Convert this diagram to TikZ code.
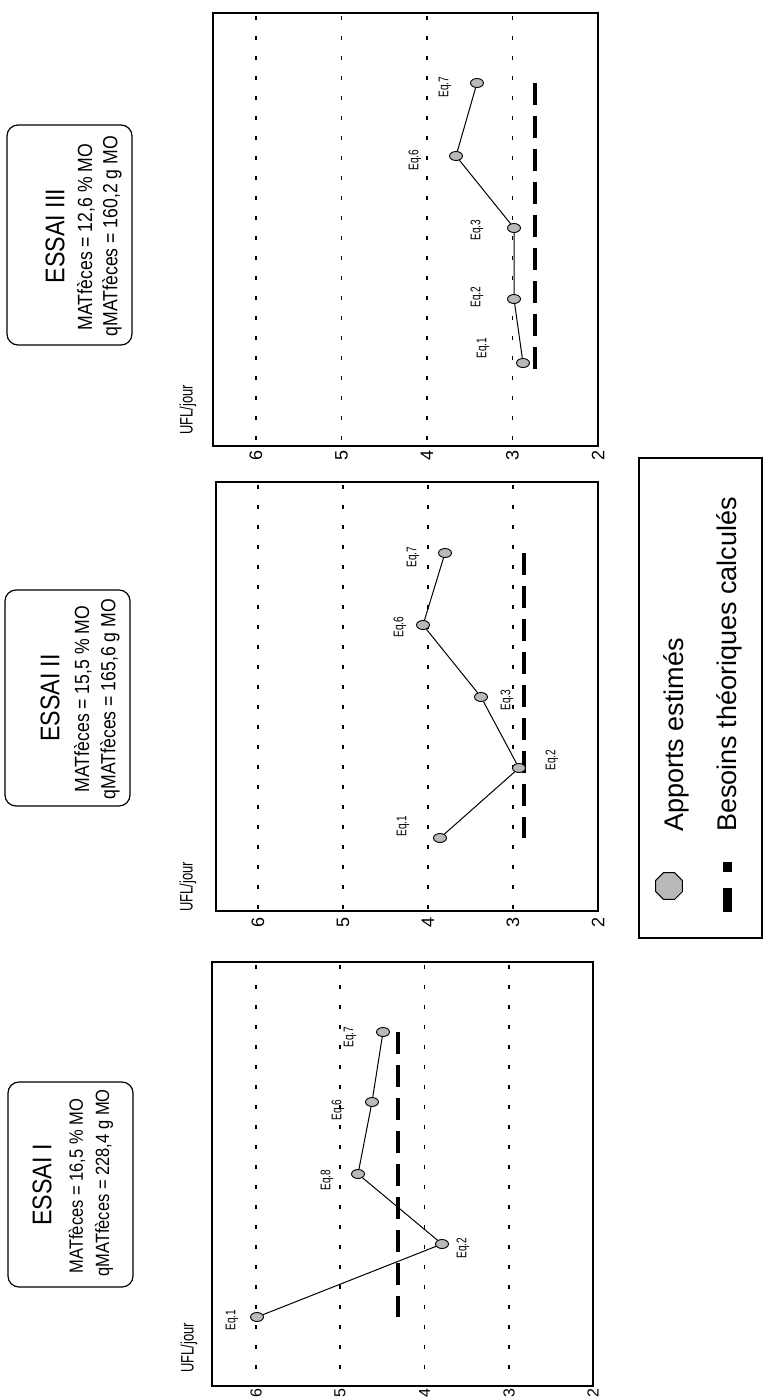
\documentclass[tikz,border=0pt]{standalone}
\usepackage{fontspec}
\setmainfont{Liberation Sans}
\newfontfamily\cond[FakeStretch=0.72]{Liberation Sans}
\newfontfamily\condb[FakeStretch=0.86]{Liberation Sans}
\usetikzlibrary{shapes.geometric}
\tikzset{
  pframe/.style={draw, line width=1.3pt},
  gridln/.style={line width=1.3pt, dash pattern=on 4pt off 16pt},
  mk/.style={ellipse, draw, line width=0.9pt, fill=gray!55, minimum width=13pt, minimum height=9pt, inner sep=0pt},
  conn/.style={line width=1pt},
  eqlab/.style={rotate=90, font=\cond\fontsize{14}{16}\selectfont, inner sep=0pt},
  reqline/.style={line width=3.5pt, dash pattern=on 22pt off 11pt},
  tlab/.style={rotate=90, font=\fontsize{18}{20}\selectfont, inner sep=0pt},
  ufl/.style={rotate=90, font=\cond\fontsize{18}{20}\selectfont, inner sep=0pt},
  essaibox/.style={draw, line width=1.2pt, rounded corners=11pt, minimum width=125pt, inner sep=0pt},
  titlet/.style={rotate=90, font=\condb\fontsize{27}{30}\selectfont, inner sep=0pt},
  boxt/.style={rotate=90, font=\condb\fontsize{20.5}{24}\selectfont, inner sep=0pt},
  boxs/.style={rotate=90, font=\condb\fontsize{19.2}{22}\selectfont, inner sep=0pt},
  legt/.style={rotate=90, font=\fontsize{27}{31}\selectfont, inner sep=0pt, anchor=base west},
}
\begin{document}
\begin{tikzpicture}[x=1pt,y=-1pt]
\useasboundingbox (0,0) rectangle (763,1398);

% ---------------- Boxes ----------------
\node[essaibox, minimum height=220pt] (b3) at (69.5,235) {};
\node[titlet] (b3t) at (55,236) {ESSAI III};
\node[boxt] (b3m) at (86,237) {MATfèces = 12,6 \% MO};
\node[boxt] (b3q) at (112,236) {qMATfèces = 160,2 g MO};

\node[essaibox, minimum height=216pt] (b2) at (67.5,698) {};
\node[titlet] (b2t) at (50,698) {ESSAI II};
\node[boxt] (b2m) at (83,699) {MATfèces = 15,5 \% MO};
\node[boxt] (b2q) at (110,699) {qMATfèces = 165,6 g MO};

\node[essaibox, minimum height=205pt] (b1) at (70.5,1184.5) {};
\node[titlet] (b1t) at (42,1185) {ESSAI I};
\node[boxs] (b1m) at (77,1186) {MATfèces = 16,5 \% MO};
\node[boxs] (b1q) at (104,1183) {qMATfèces = 228,4 g MO};

% ---------------- Panel III ----------------
\draw[pframe] (213,13) rectangle (598,446);
\foreach \gx in {256,341.5,427,512.5} \draw[gridln] (\gx,16) -- (\gx,446);
\foreach \gx/\lab in {256/6,341.5/5,427/4,512.5/3,598/2} \node[tlab] at (\gx,455) {\lab};
\node[ufl] (u3) at (188,410) {UFL/jour};
\draw[reqline] (535,83) -- (535,370);
\node[mk] (c1) at (523,363) {};
\node[mk] (c2) at (514,299) {};
\node[mk] (c3) at (514,228) {};
\node[mk] (c6) at (456,156) {};
\node[mk] (c7) at (477,83) {};
\draw[conn] (c1) -- (c2) -- (c3) -- (c6) -- (c7);
\node[eqlab] at (483,348) {Eq.1};
\node[eqlab] at (477,297) {Eq.2};
\node[eqlab] at (477,230) {Eq.3};
\node[eqlab] at (415,160) {Eq.6};
\node[eqlab] at (445,87) {Eq.7};

% ---------------- Panel II ----------------
\draw[pframe] (216,482) rectangle (598,911);
\foreach \gx in {258,343,428,513} \draw[gridln] (\gx,485) -- (\gx,911);
\foreach \gx/\lab in {258/6,343/5,428/4,513/3,598/2} \node[tlab] at (\gx,922) {\lab};
\node[ufl] (u2) at (188,887) {UFL/jour};
\draw[reqline] (524,553) -- (524,838);
\node[mk] (d1) at (440,838) {};
\node[mk] (d2) at (519,768) {};
\node[mk] (d3) at (481,697) {};
\node[mk] (d6) at (423,625) {};
\node[mk] (d7) at (445,553) {};
\draw[conn] (d1) -- (d2) -- (d3) -- (d6) -- (d7);
\node[eqlab] at (403,826) {Eq.1};
\node[eqlab] at (552,760) {Eq.2};
\node[eqlab] at (507,700) {Eq.3};
\node[eqlab] at (400,627) {Eq.6};
\node[eqlab] at (413,557) {Eq.7};

% ---------------- Panel I ----------------
\draw[pframe] (212,962) rectangle (593,1386);
\foreach \gx in {256,340,424.5,509} \draw[gridln] (\gx,965) -- (\gx,1386);
\foreach \gx/\lab in {256/6,340/5,424.5/4,509/3,593/2} \node[tlab, anchor=west, font=\fontsize{16}{18}\selectfont] at (\gx,1397.5) {\lab};
\node[ufl] (u1) at (189,1348) {UFL/jour};
\draw[reqline] (398,1032) -- (398,1317);
\node[mk] (e1) at (257,1317) {};
\node[mk] (e2) at (442,1244) {};
\node[mk] (e8) at (358,1174) {};
\node[mk] (e6) at (372,1102) {};
\node[mk] (e7) at (383,1032) {};
\draw[conn] (e1) -- (e2) -- (e8) -- (e6) -- (e7);
\node[eqlab] at (232,1320) {Eq.1};
\node[eqlab] at (463,1248) {Eq.2};
\node[eqlab] at (327,1180) {Eq.8};
\node[eqlab] at (338,1110) {Eq.6};
\node[eqlab] at (350,1037) {Eq.7};

% ---------------- Legend ----------------
\draw[line width=1.3pt] (762,458) -- (639,458) -- (639,938) -- (762,938) -- cycle;
\node[regular polygon, regular polygon sides=8, draw, line width=1pt, fill=gray!55, minimum size=29pt, inner sep=0pt] (lm) at (669,886) {};
\draw[line width=9pt] (727.5,888) -- (727.5,912);
\draw[line width=9pt] (727.5,862) -- (727.5,872);
\node[legt] (l1) at (683,832) {Apports estimés};
\node[legt] (l2) at (736,832) {Besoins théoriques calculés};
\end{tikzpicture}
\end{document}
